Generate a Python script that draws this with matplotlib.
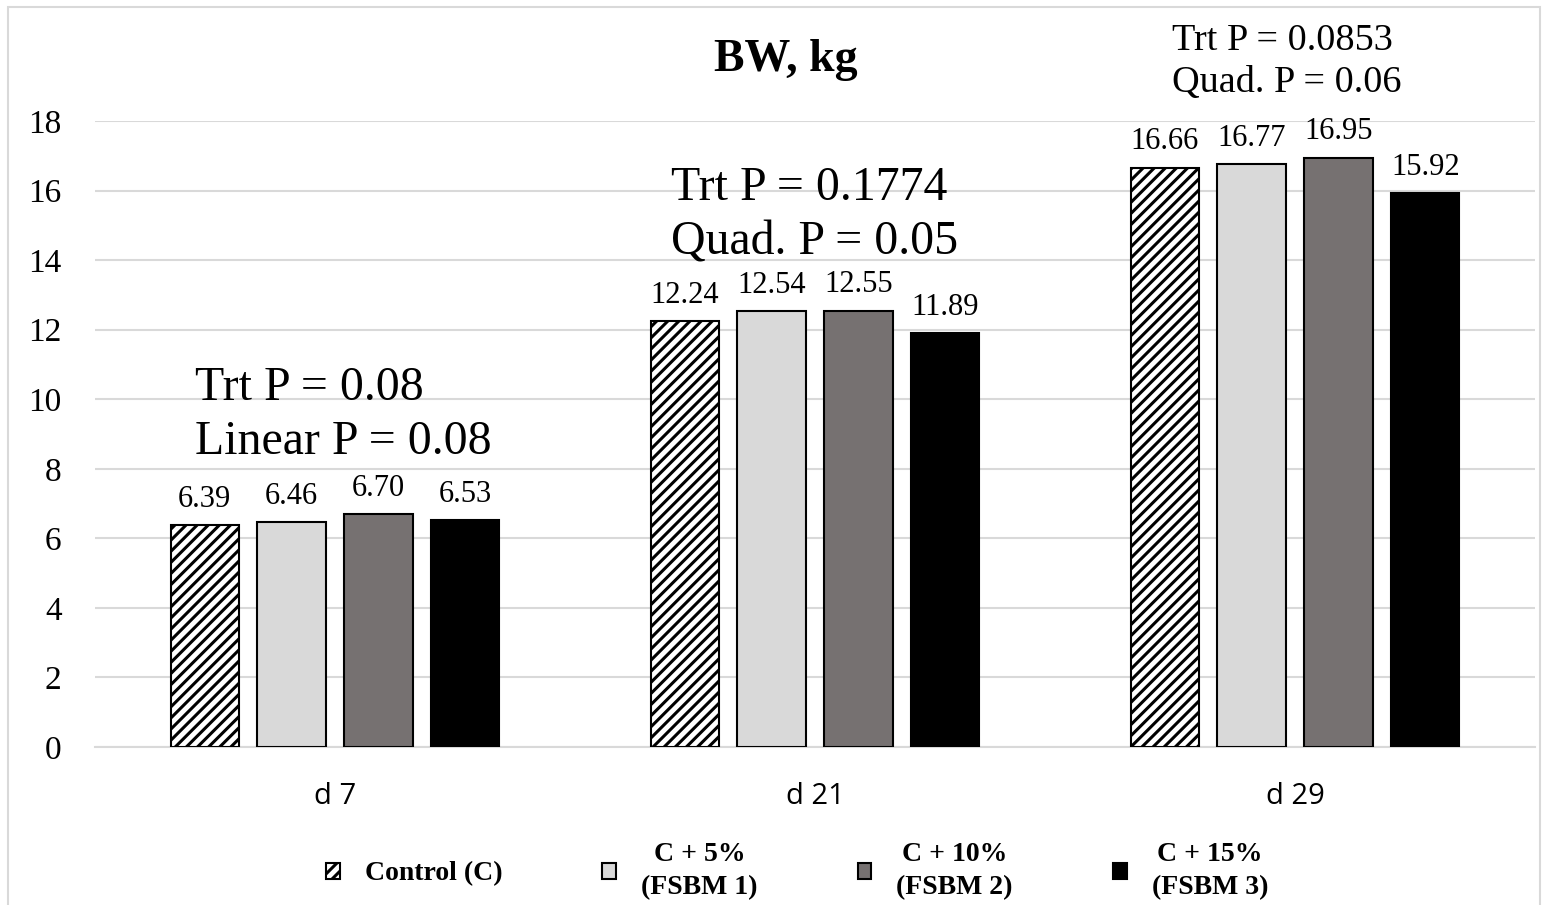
# BW (kg) by treatment on d 7, 21 and 29 - grouped bars with P-value notes

import matplotlib.pyplot as plt
import numpy as np
from matplotlib.patches import Rectangle

days = ['d 7', 'd 21', 'd 29']
treatments = ['Control (C)', 'C + 5%\n(FSBM 1)', 'C + 10%\n(FSBM 2)', 'C + 15%\n(FSBM 3)']
control = [6.39, 12.24, 16.66]
fsbm1 = [6.46, 12.54, 16.77]
fsbm2 = [6.70, 12.55, 16.95]
fsbm3 = [6.53, 11.89, 15.92]
p_notes = ['Trt P = 0.08\nLinear P = 0.08',
           'Trt P = 0.1774\nQuad. P = 0.05',
           'Trt P = 0.0853\nQuad. P = 0.06']

plt.rcParams['font.family'] = ['Liberation Serif', 'DejaVu Serif']
plt.rcParams['hatch.linewidth'] = 2.2

W, H = 1542, 905
fig = plt.figure(figsize=(W / 100, H / 100), dpi=100)
ax = fig.add_axes([95 / W, 1 - 747 / H, 1440 / W, (747 - 121) / H])

x = np.arange(len(days))
width = 0.142
step = 0.181
series = [control, fsbm1, fsbm2, fsbm3]
fills = ['white', '#d9d9d9', '#767171', 'black']
hatches = ['///', None, None, None]

for i, (vals, fc, h, lab) in enumerate(zip(series, fills, hatches, treatments)):
    bars = ax.bar(x + (i - 1.5) * step, vals, width, color=fc, edgecolor='black',
                  linewidth=1.5, hatch=h, label=lab, zorder=3)
    for b, v in zip(bars, vals):
        ax.annotate(f'{v:.2f}', (b.get_x() + b.get_width() / 2, v),
                    xytext=(0, 8), textcoords='offset points',
                    ha='center', va='bottom', fontsize=22)

# P-value notes above each group: (x offset from group centre, y, font size)
note_pos = [(-0.292, 9.55, 34.5), (-0.300, 15.3, 34.5), (-0.256, 19.7, 27.5)]
for xi, note, (dx, y, fs) in zip(x, p_notes, note_pos):
    ax.text(xi + dx, y, note, ha='left', va='center', fontsize=fs,
            linespacing=1.3, clip_on=False)

ax.set_xlim(-0.5, 2.5)
ax.set_ylim(0, 18)
ax.set_yticks(range(0, 19, 2))
ax.yaxis.grid(True, color='#d9d9d9', linewidth=1.5)
ax.set_axisbelow(True)
for s in ['top', 'right', 'left']:
    ax.spines[s].set_visible(False)
ax.spines['bottom'].set_color('#d9d9d9')
ax.spines['bottom'].set_linewidth(1.5)
ax.tick_params(length=0)
ax.tick_params(axis='y', labelsize=24, pad=24)
ax.tick_params(axis='x', pad=25)
ax.set_xticks(x, days)
for lbl in ax.get_xticklabels():
    lbl.set_fontfamily('Open Sans')
    lbl.set_fontsize(21)

fig.text(786 / W, 1 - 60 / H, 'BW, kg', ha='center', va='center',
         fontsize=33, fontweight='bold')

leg = fig.legend(loc='center', bbox_to_anchor=(797 / W, 1 - 871 / H), ncol=4,
                 frameon=False, prop={'weight': 'bold', 'size': 20},
                 handlelength=0.5, handleheight=0.5, handletextpad=0.9,
                 columnspacing=3.6)
for t in leg.get_texts():
    t.set_multialignment('center')
    t.set_linespacing(1.45)

# light frame round the chart area
fig.patches.append(Rectangle((8 / W, -0.02), (1540 - 8) / W, 1 - 7 / H + 0.02,
                             transform=fig.transFigure, fill=False,
                             edgecolor='#d9d9d9', linewidth=1.5))

fig.savefig('out.png', dpi=100)
